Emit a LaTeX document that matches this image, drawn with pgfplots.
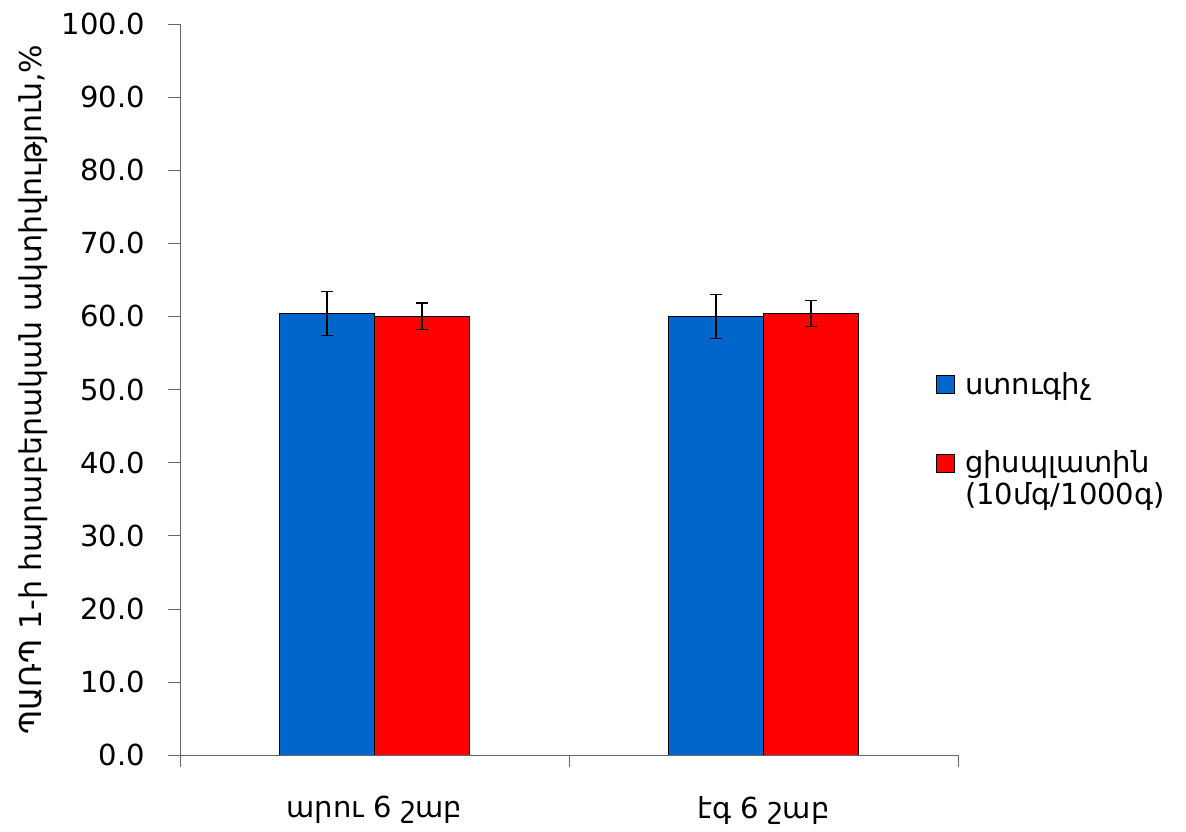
\documentclass[border=0pt]{standalone}
\usepackage{fontspec}
\setmainfont[Script=Armenian]{DejaVu Sans}
\usepackage{pgfplots}
\pgfplotsset{compat=1.18}
\definecolor{cblue}{RGB}{0,102,204}
\definecolor{cred}{RGB}{255,0,0}
\begin{document}
\begin{tikzpicture}
\begin{axis}[
  scale only axis,
  width=389pt, height=365.5pt,
  xmin=-0.5, xmax=1.5,
  ymin=0, ymax=100,
  axis lines=left,
  axis line style={-, draw=gray!80!black},
  ybar=0pt,
  bar width=0.244,
  xtick={0,1},
  xticklabels={արու 6 շաբ, էգ 6 շաբ},
  minor xtick={-0.5,0.5,1.5},
  major x tick style={draw=none},
  minor tick length=6pt,
  major tick length=6pt,
  tick align=outside,
  tick style={draw=gray!80!black},
  ytick={0,10,...,100},
  /pgf/number format/assume math mode=true,
  ticklabel style={font=\fontsize{14.5}{16}\selectfont},
  yticklabel style={xshift=-8pt, /pgf/number format/.cd, fixed, fixed zerofill, precision=1},
  xticklabel style={yshift=-11pt},
  ylabel={ՊԱՌՊ 1-ի հարաբերական ակտիվություն,\%},
  ylabel style={font=\fontsize{15}{17}\selectfont},
  ylabel shift=0pt,
  legend style={at={(rel axis cs:0.964,0.535)}, anchor=north west, draw=none, fill=none,
    font=\fontsize{14.5}{16}\selectfont, row sep=22.5pt, cells={anchor=west},
    /tikz/every odd column/.append style={column sep=3pt}},
  legend image code/.code={\draw[#1, draw=black, line width=0.4pt] (0pt,-4.5pt) rectangle (9pt,4.5pt);},
  error bars/error bar style={black, line width=0.7pt},
  error bars/error mark options={rotate=90, mark size=3pt, black, line width=0.7pt},
]
\addplot[fill=cblue, draw=black, line width=0.4pt,
  error bars/.cd, y dir=both, y explicit]
  coordinates {(0,60.4) +- (0,3.0) (1,60.0) +- (0,3.0)};
\addplot[fill=cred, draw=black, line width=0.4pt,
  error bars/.cd, y dir=both, y explicit]
  coordinates {(0,60.0) +- (0,1.8) (1,60.4) +- (0,1.8)};
\legend{ստուգիչ, {\begin{tabular}[t]{@{}l@{}}ցիսպլատին\\(10մգ/1000գ)\end{tabular}}}
\coordinate (bbsw) at (rel axis cs:-0.2314,-0.1053);
\coordinate (bbne) at (rel axis cs:1.2931,1.0328);
\end{axis}
\pgfresetboundingbox
\path (bbsw) rectangle (bbne);
\end{tikzpicture}
\end{document}
